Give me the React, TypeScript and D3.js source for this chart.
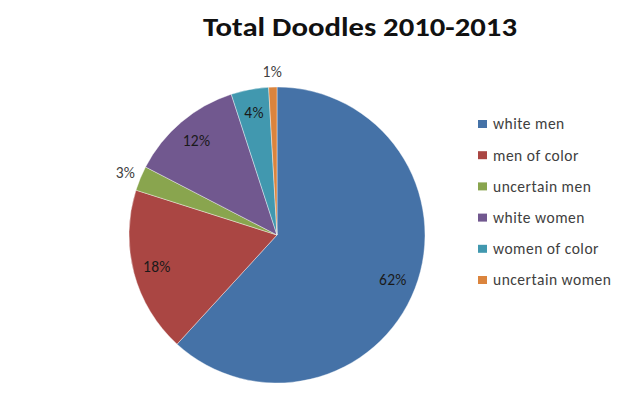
import React from "react";
import * as d3 from "d3";

const categories = ["white men", "men of color", "uncertain men", "white women", "women of color", "uncertain women"];
const values = [61.8, 18.1, 2.7, 12.4, 4.1, 0.9];
const colors = ["#4572A7", "#AA4643", "#89A54E", "#71588F", "#4198AF", "#DB843D"];
const title = "Total Doodles 2010-2013";

export default function App() {
  const W = 634, H = 398;
  const cx = 277, cy = 235, r = 148;
  const pie = d3.pie<number>().sort(null).value((d) => d)(values);
  const arc = d3.arc<d3.PieArcDatum<number>>().innerRadius(0).outerRadius(r);
  const inLabel = d3.arc<d3.PieArcDatum<number>>().innerRadius(r * 0.84).outerRadius(r * 0.84);
  const outLabel = d3.arc<d3.PieArcDatum<number>>().innerRadius(r + 16).outerRadius(r + 16);
  const fmt = (v: number) => `${Math.round(v)}%`;
  const legendY = d3.scalePoint<string>().domain(categories).range([124, 280]);

  return (
    <svg width={W} height={H} style={{ position: "absolute", left: 0, top: 0, background: "#fff" }}
      fontFamily="Carlito, 'Open Sans', 'Noto Sans', sans-serif">
      <text x={360} y={36} textAnchor="middle" fontSize={27} fontWeight="bold" fill="#111"
        textLength={314} lengthAdjust="spacingAndGlyphs">{title}</text>
      <g transform={`translate(${cx},${cy})`}>
        {pie.map((p, i) => (
          <path key={i} d={arc(p) || ""} fill={colors[i]} stroke="#ffffff" strokeWidth={0.4} />
        ))}
        {pie.map((p, i) => {
          const outside = p.data < 3.5;
          const [x, y] = (outside ? outLabel : inLabel).centroid(p);
          return (
            <text key={i} x={x} y={y} dy="0.35em" textAnchor="middle" fontSize={15.5}
              letterSpacing={0.3} fill={outside ? "#404040" : "#1a1a1a"}>{fmt(p.data)}</text>
          );
        })}
      </g>
      <g>
        {categories.map((c, i) => (
          <g key={c} transform={`translate(478,${legendY(c)})`}>
            <rect x={0} y={-4} width={9} height={8} fill={colors[i]} />
            <text x={15} y={0} dy="0.35em" fontSize={15.5} letterSpacing={0.5} fill="#404040">{c}</text>
          </g>
        ))}
      </g>
    </svg>
  );
}
